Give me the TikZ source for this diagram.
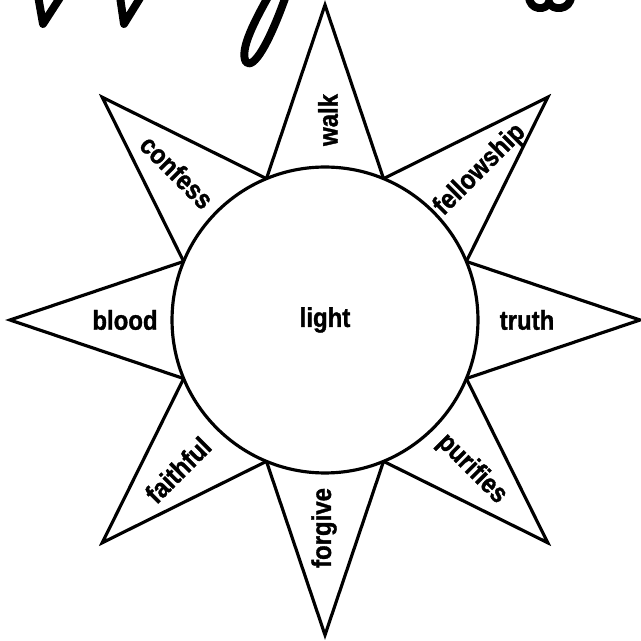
\documentclass[tikz,border=0pt]{standalone}
\usepackage{fontspec}
\setmainfont{Liberation Sans}[FakeStretch=0.88, BoldFeatures={FakeBold=1.2}]
\usepackage{tikz}

\begin{document}
\begin{tikzpicture}[
    x=0.02cm, y=0.02cm,
    ray/.style={
        draw=black,
        line width=1.8pt,
        line join=miter,
        fill=white
    },
    sun/.style={
        circle,
        draw=black,
        line width=1.8pt,
        fill=white,
        minimum size=6.12cm,
        inner sep=0pt,
        font=\bfseries\fontsize{15.5}{15.5}\selectfont
    },
    word/.style={
        inner sep=0pt,
        font=\bfseries\fontsize{15.5}{15.5}\selectfont
    },
    script/.style={
        draw=black,
        line width=4.5pt,
        line cap=round,
        line join=round
    }
]
\useasboundingbox (-325,-321) rectangle (315,320);

% rays of the sun
\draw[ray] (90:315)
    \foreach \a in {1,...,7}{ -- ({45*\a+67.5}:153) -- ({45*\a+90}:315) }
    -- (67.5:153) -- cycle;

\node[sun] (light) at (0,0) {light};

\node[word, rotate=90] (walk) at (3,200) {walk};
\node[word, rotate=45] (fellowship) at (155,150) {fellowship};
\node[word] (truth) at (202,0) {truth};
\node[word, rotate=-45] (purifies) at (147,-149) {purifies};
\node[word, rotate=90] (forgive) at (-1,-208) {forgive};
\node[word, rotate=45] (faithful) at (-147,-150) {faithful};
\node[word] (blood) at (-200,0) {blood};
\node[word, rotate=-45] (confess) at (-148,148) {confess};

% bits of the title, cut off by the page edge
\draw[script] (-288,330) -- (-282,296) -- (-260,330);
\draw[script] (-206,330) -- (-201,296) -- (-180,330);
\draw[script] (-53,330) .. controls (-70,300) and (-86,270) .. (-79,258)
    .. controls (-72,250) and (-56,275) .. (-37,330);
\draw[script] (204,324) .. controls (204,309) and (222,309) .. (224,318)
    .. controls (226,309) and (246,309) .. (246,324);
\end{tikzpicture}
\end{document}
